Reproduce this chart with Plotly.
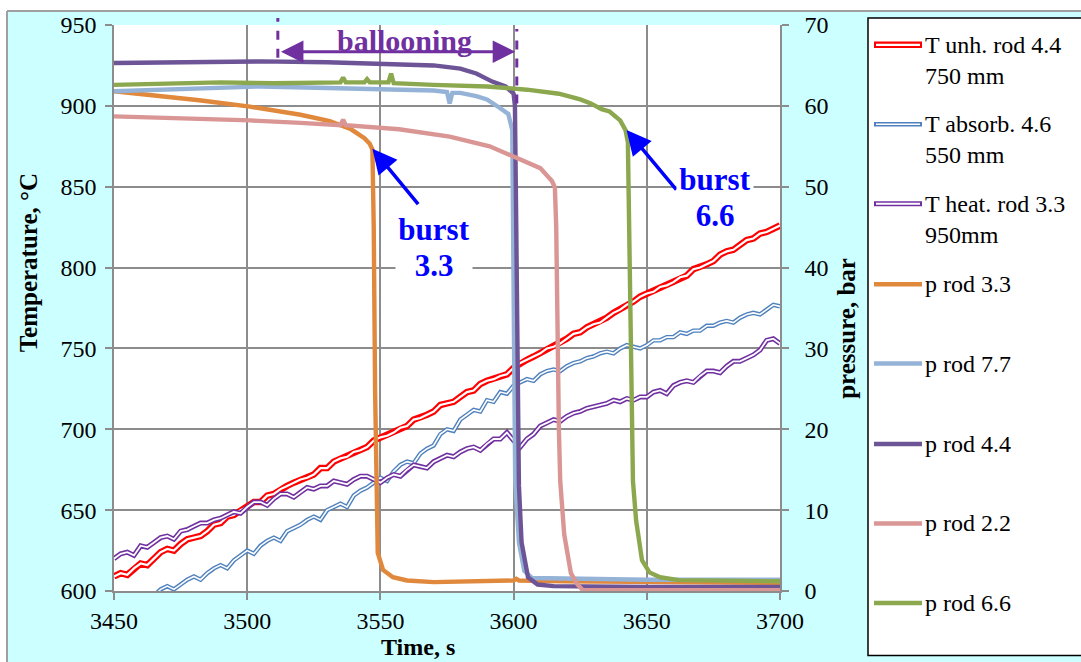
import plotly.graph_objects as go

# ---------------- data ----------------
# Cladding temperatures (left axis, °C), logged every 2.5 s
t_unh = [3450 + 2.5 * i for i in range(101)]
T_unh = [609, 611, 610, 614, 617, 616, 620, 624, 626, 625, 629, 632, 633, 634, 637, 641,
         642, 646, 647, 650, 652, 655, 655, 659, 660, 663, 665, 667, 669, 670, 672, 676,
         676, 680, 682, 683, 686, 687, 689, 693, 695, 696, 698, 701, 702, 706, 707, 709,
         711, 715, 716, 717, 720, 723, 724, 728, 730, 731, 733, 734, 738, 741, 743, 745,
         747, 750, 751, 753, 756, 759, 760, 763, 765, 766, 769, 772, 774, 777, 779, 782,
         784, 785, 788, 789, 791, 794, 795, 799, 800, 802, 804, 808, 810, 811, 814, 817,
         818, 821, 822, 824, 826]

t_abs = [3460 + 2.5 * i for i in range(97)]
T_abs = [595, 598, 597, 601, 603, 601, 604, 607, 609, 607, 611, 614, 616, 614, 619, 622,
         625, 623, 628, 631, 633, 631, 637, 639, 641, 644, 646, 644, 650, 652, 654, 652,
         659, 662, 664, 667, 670, 668, 674, 678, 680, 679, 685, 688, 690, 697, 700, 699,
         706, 709, 712, 711, 718, 717, 723, 722, 727, 729, 731, 730, 734, 736, 737, 736,
         739, 741, 742, 744, 745, 747, 748, 747, 750, 752, 751, 750, 752, 755, 755, 757,
         757, 760, 759, 761, 761, 764, 764, 766, 767, 766, 769, 771, 772, 771, 774, 777,
         776]

t_heat = [3450 + 2.5 * i for i in range(101)]
T_heat = [620, 623, 624, 622, 628, 627, 630, 633, 634, 632, 637, 638, 640, 642, 642, 644,
          645, 647, 649, 648, 652, 655, 655, 653, 657, 660, 660, 658, 661, 664, 663, 665,
          665, 668, 667, 666, 669, 671, 671, 669, 667, 670, 672, 671, 675, 678, 677, 676,
          680, 682, 684, 683, 686, 688, 689, 687, 691, 694, 694, 698, 693, 689, 694, 697,
          702, 704, 706, 705, 708, 710, 711, 713, 714, 715, 716, 718, 717, 719, 718, 720,
          720, 723, 724, 722, 727, 729, 730, 729, 733, 736, 736, 735, 739, 742, 742, 744,
          746, 749, 755, 756, 753]

# Rod inner pressures (right axis, bar)
t_p33 = [3450, 3465, 3482, 3501, 3520, 3531, 3539, 3544, 3546, 3547, 3547.5, 3548, 3548.5,
         3549, 3551, 3554.7, 3560, 3570, 3600, 3601, 3602, 3620, 3700]
p_p33 = [61.8, 61.3, 60.7, 59.9, 58.9, 58.1, 57.1, 56.0, 55.3, 54.6, 45, 25, 10,
         4.7, 2.6, 1.7, 1.3, 1.1, 1.3, 1.5, 1.3, 1.2, 1.0]

t_p77 = [3450, 3480, 3505, 3530, 3555, 3570, 3575, 3576, 3577, 3580, 3586, 3590, 3595,
         3598, 3599.5, 3600, 3600.3, 3600.6, 3602, 3604, 3607, 3650, 3700]
p_p77 = [61.8, 62.1, 62.4, 62.2, 62.0, 61.9, 61.7, 60.3, 61.6, 61.6, 61.2, 60.8, 59.7,
         59.0, 57.0, 40, 25, 13.6, 6, 2.5, 1.6, 1.4, 1.4]

t_p44 = [3450, 3480, 3505, 3530, 3559, 3570, 3580, 3586, 3592, 3597, 3600, 3600.5, 3601,
         3601.5, 3602, 3603, 3605.4, 3609, 3615, 3650, 3700]
p_p44 = [65.3, 65.4, 65.5, 65.4, 65.2, 65.0, 64.6, 64.0, 63.0, 62.4, 61.5, 60, 45,
         25, 13, 6, 1.7, 0.8, 0.6, 0.5, 0.5]

t_p22 = [3450, 3475, 3501, 3520, 3535, 3536, 3537, 3557, 3576, 3591, 3602, 3610, 3614.4,
         3615.5, 3616, 3616.5, 3617, 3617.5, 3619, 3621.5, 3624, 3626, 3700]
p_p22 = [58.7, 58.5, 58.2, 57.9, 57.6, 58.3, 57.6, 57.1, 56.2, 55.0, 53.5, 52.3, 50.7,
         49.9, 45, 30, 20, 13.6, 7, 2.2, 0.8, 0.1, 0.1]

t_p66 = [3450, 3470, 3490, 3510, 3530, 3535, 3536, 3537, 3544, 3545, 3546, 3553, 3554,
         3555, 3570, 3590, 3605, 3617, 3625, 3629, 3633, 3636, 3640, 3642, 3642.9, 3643.3,
         3643.7, 3644.2, 3644.8, 3646, 3648.2, 3651, 3655, 3662, 3700]
p_p66 = [62.6, 62.8, 62.9, 62.8, 62.9, 62.9, 63.5, 62.9, 62.9, 63.3, 62.9, 62.9, 64.0,
         62.8, 62.6, 62.4, 62.0, 61.5, 60.8, 60.3, 59.6, 59.3, 58.2, 57.0, 55.5, 45,
         33, 22, 13.6, 8.7, 3.8, 2.3, 1.7, 1.35, 1.2]

x_ticks = [3450, 3500, 3550, 3600, 3650, 3700]
T_ticks = [600, 650, 700, 750, 800, 850, 900, 950]
p_ticks = [0, 10, 20, 30, 40, 50, 60, 70]

# event markers
balloon_start, balloon_end = 3511.5, 3601.2
balloon_arrow_p = 66.7
burst33 = (3547.0, 54.7)
burst66 = (3642.4, 57.0)

# ---------------- layout geometry ----------------
W, H = 1081, 662
ML, MR, MT, MB = 114, 301, 21, 71
PW = W - ML - MR
PH = H - MT - MB
FONT = "Liberation Serif, Times New Roman, serif"
GRID = "#8C8C8C"
CYAN = "#CCFFFF"
PURPLE = "#7030A0"
BLUE = "#0000FF"


def fx(x):
    """pixel x -> paper x"""
    return (x - ML) / PW


def fy(y):
    """pixel y -> paper y"""
    return (H - MB - y) / PH


def tx(t):
    """time -> paper x"""
    return (t - x_ticks[0]) / (x_ticks[-1] - x_ticks[0])


fig = go.Figure()

# temperature curves drawn as double lines (coloured outline + white core)
temps = [
    (t_unh, T_unh, "#FF0000", 6.5, 2.2),
    (t_abs, T_abs, "#4F81BD", 4.4, 1.6),
    (t_heat, T_heat, PURPLE, 5.0, 1.8),
]
for tt, TT, col, wo, wi in temps:
    fig.add_trace(go.Scatter(x=tt, y=TT, mode="lines", line=dict(color=col, width=wo),
                             hoverinfo="skip", showlegend=False))
    fig.add_trace(go.Scatter(x=tt, y=TT, mode="lines", line=dict(color="white", width=wi),
                             hoverinfo="skip", showlegend=False))

pressures = [
    (t_p33, p_p33, "#E0883C"),
    (t_p77, p_p77, "#95B3D7"),
    (t_p44, p_p44, "#6D5497"),
    (t_p22, p_p22, "#D99694"),
    (t_p66, p_p66, "#8CA84E"),
]
for tt, pp, col in pressures:
    fig.add_trace(go.Scatter(x=tt, y=pp, yaxis="y2", mode="lines",
                             line=dict(color=col, width=4.4),
                             hoverinfo="skip", showlegend=False))

axis_common = dict(showline=True, linecolor=GRID, linewidth=1.5, ticks="outside",
                   ticklen=7, tickcolor=GRID, tickwidth=1.5,
                   tickfont=dict(family=FONT, size=24, color="black"), zeroline=False)

fig.update_layout(
    width=W, height=H,
    margin=dict(l=ML, r=MR, t=MT, b=MB, pad=0),
    paper_bgcolor=CYAN, plot_bgcolor="white",
    showlegend=False,
    xaxis=dict(range=[x_ticks[0], x_ticks[-1]], tickvals=x_ticks, showgrid=True,
               gridcolor=GRID, gridwidth=1.5, ticklabelstandoff=0, **axis_common),
    yaxis=dict(range=[T_ticks[0], T_ticks[-1]], tickvals=T_ticks, showgrid=True,
               gridcolor=GRID, gridwidth=1.5, ticklabelstandoff=4, **axis_common),
    yaxis2=dict(range=[p_ticks[0], p_ticks[-1]], tickvals=p_ticks, overlaying="y",
                side="right", showgrid=False, ticklabelstandoff=11, **axis_common),
)

shapes = []
# white frame strip and grey border of the chart area
shapes.append(dict(type="rect", xref="paper", yref="paper", x0=fx(-5), x1=fx(W + 5),
                   y0=fy(7), y1=fy(-5), fillcolor="white", line=dict(width=0), layer="below"))
shapes.append(dict(type="rect", xref="paper", yref="paper", x0=fx(-5), x1=fx(7),
                   y0=fy(H + 5), y1=fy(-5), fillcolor="white", line=dict(width=0), layer="below"))
shapes.append(dict(type="line", xref="paper", yref="paper", x0=fx(7), x1=fx(W + 5),
                   y0=fy(7), y1=fy(7), line=dict(color="#A0A0A0", width=2)))
shapes.append(dict(type="line", xref="paper", yref="paper", x0=fx(7), x1=fx(7),
                   y0=fy(7), y1=fy(H + 5), line=dict(color="#A0A0A0", width=2)))

# legend box
shapes.append(dict(type="rect", xref="paper", yref="paper", x0=fx(868), x1=fx(W + 20),
                   y0=fy(656), y1=fy(14), fillcolor="white",
                   line=dict(color="black", width=1.5), layer="below"))

# ballooning period markers
shapes.append(dict(type="line", xref="paper", yref="paper", x0=tx(balloon_start),
                   x1=tx(balloon_start), y0=fy(54), y1=fy(14),
                   line=dict(color=PURPLE, width=3, dash="dash")))
shapes.append(dict(type="line", xref="paper", yref="paper", x0=tx(balloon_end),
                   x1=tx(balloon_end), y0=fy(100), y1=fy(25),
                   line=dict(color=PURPLE, width=3, dash="dash")))

annotations = []
annotations.append(dict(xref="x", yref="y2", x=balloon_end - 0.6, y=balloon_arrow_p,
                        axref="x", ayref="y2", ax=balloon_start + 0.6, ay=balloon_arrow_p,
                        text="", showarrow=True, arrowside="end+start", arrowhead=2,
                        arrowsize=1.5, arrowwidth=3, arrowcolor=PURPLE))
annotations.append(dict(xref="paper", yref="paper", x=fx(404), y=fy(37),
                        text="<b>ballooning</b>", showarrow=False,
                        font=dict(family=FONT, size=30, color=PURPLE),
                        xanchor="center", yanchor="middle"))

# burst markers
annotations.append(dict(xref="x", yref="y2", x=burst33[0], y=burst33[1], text="",
                        showarrow=True, ax=47, ay=57, arrowhead=2, arrowsize=1.4,
                        arrowwidth=3.5, arrowcolor=BLUE))
annotations.append(dict(xref="x", yref="y2", x=burst66[0], y=burst66[1], text="",
                        showarrow=True, ax=51, ay=61, arrowhead=2, arrowsize=1.4,
                        arrowwidth=3.5, arrowcolor=BLUE))
for label, xc, y1, y2 in [("3.3", 434, 227, 263), ("6.6", 715, 177, 213)]:
    annotations.append(dict(xref="paper", yref="paper", x=fx(xc), y=fy(y2),
                            text="<b>%s</b>" % label, showarrow=False, bgcolor="white",
                            width=76, font=dict(family=FONT, size=31, color=BLUE),
                            xanchor="center", yanchor="middle", borderpad=0))
    annotations.append(dict(xref="paper", yref="paper", x=fx(xc), y=fy(y1),
                            text="<b>burst</b>", showarrow=False, bgcolor="white",
                            width=76, font=dict(family=FONT, size=31, color=BLUE),
                            xanchor="center", yanchor="middle", borderpad=0))

# axis titles
annotations.append(dict(xref="paper", yref="paper", x=fx(28), y=fy(261),
                        text="<b>Temperature, °C</b>", textangle=-90, showarrow=False,
                        font=dict(family=FONT, size=25, color="black"),
                        xanchor="center", yanchor="middle"))
annotations.append(dict(xref="paper", yref="paper", x=fx(847), y=fy(327),
                        text="<b>pressure, bar</b>", textangle=-90, showarrow=False,
                        font=dict(family=FONT, size=25, color="black"),
                        xanchor="center", yanchor="middle"))
annotations.append(dict(xref="paper", yref="paper", x=fx(418), y=fy(647),
                        text="<b>Time, s</b>", showarrow=False,
                        font=dict(family=FONT, size=24, color="black"),
                        xanchor="center", yanchor="middle"))

# legend entries
legend_items = [
    ("T unh. rod 4.4", "750 mm", "#FF0000", 41, True, 6.5, 2.2),
    ("T absorb. 4.6", "550 mm", "#4F81BD", 121, True, 4.5, 1.6),
    ("T heat. rod 3.3", "950mm", PURPLE, 201, True, 5, 1.8),
    ("p rod 3.3", None, "#E0883C", 282, False, 4.5, 0),
    ("p rod 7.7", None, "#95B3D7", 362, False, 4.5, 0),
    ("p rod 4.4", None, "#6D5497", 443, False, 4.5, 0),
    ("p rod 2.2", None, "#D99694", 523, False, 4.5, 0),
    ("p rod 6.6", None, "#8CA84E", 603, False, 4.5, 0),
]
for name, second, col, yc, double, wo, wi in legend_items:
    shapes.append(dict(type="line", xref="paper", yref="paper", x0=fx(874), x1=fx(922),
                       y0=fy(yc), y1=fy(yc), line=dict(color=col, width=wo)))
    if double:
        shapes.append(dict(type="line", xref="paper", yref="paper", x0=fx(876), x1=fx(920),
                           y0=fy(yc), y1=fy(yc), line=dict(color="white", width=wi)))
    annotations.append(dict(xref="paper", yref="paper", x=fx(923), y=fy(yc), text=name,
                            showarrow=False, xanchor="left", yanchor="middle",
                            font=dict(family=FONT, size=24, color="black")))
    if second:
        annotations.append(dict(xref="paper", yref="paper", x=fx(923), y=fy(yc + 31),
                                text=second, showarrow=False, xanchor="left",
                                yanchor="middle",
                                font=dict(family=FONT, size=24, color="black")))

fig.update_layout(shapes=shapes, annotations=annotations)
fig.write_html("out.html")
